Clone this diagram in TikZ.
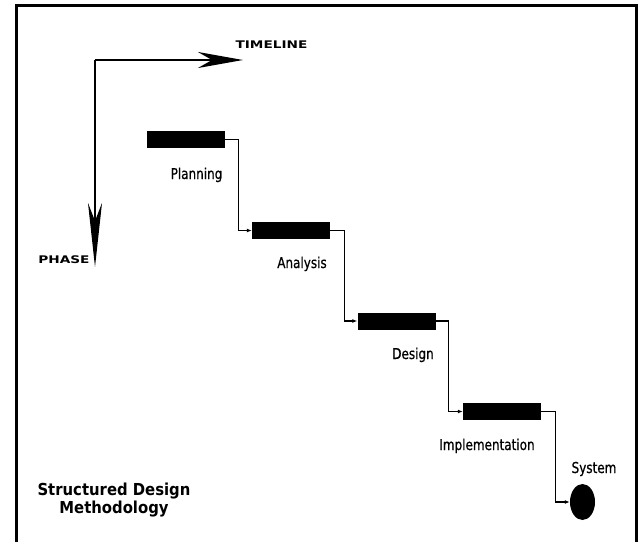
\documentclass[tikz,border=0pt]{standalone}
\usepackage{fontspec}
\usepackage{tikz}
\usetikzlibrary{
  arrows.meta,
  shapes.geometric,
  positioning
}
\newfontfamily\phasefont{DejaVu Sans}[FakeStretch=0.8, FakeBold=0.6]
\newfontfamily\axisfont{DejaVu Sans}[FakeStretch=1.3]
\newfontfamily\titlefont{DejaVu Sans}[FakeStretch=0.9]
\tikzset{
  x=1pt, y=-1pt,
  phasebar/.style={rectangle, fill=black, inner sep=0pt, minimum width=78pt, minimum height=17pt},
  phaselabel/.style={anchor=base, inner sep=0pt, font=\phasefont\fontsize{15}{15}\selectfont},
  axislabel/.style={anchor=base, inner sep=0pt, font=\axisfont\bfseries\fontsize{10.5}{10.5}\selectfont},
  flow/.style={line width=1.4pt, -{Latex[length=5pt, width=4pt]}},
  axis/.style={line width=2.6pt}
}

\begin{document}
\begin{tikzpicture}
    \useasboundingbox (0,0) rectangle (641,542);
    \draw[line width=3pt] (16,542) -- (16,5.5) -- (636,5.5) -- (636,542);
    % axes
    \coordinate (origin) at (95,60);
    \coordinate (tend) at (243,60);
    \coordinate (pend) at (95,267);
    \draw[axis, -{Stealth[length=45pt, width=16pt, inset=14pt]}] (origin) -- (tend);
    \draw[axis, -{Stealth[length=64pt, width=14pt, inset=18pt]}] (origin) -- (pend);
    \node[axislabel] (timeline) at (271.5,48) {TIMELINE};
    \node[axislabel] (phase) at (64,263) {PHASE};
    % phases
    \node[phasebar] (plan) at (186,139.5) {};
    \node[phasebar] (ana) at (291,230.5) {};
    \node[phasebar] (des) at (396.5,321) {};
    \node[phasebar] (impl) at (502,411.5) {};
    \node[ellipse, fill=black, inner sep=0pt, minimum width=25pt, minimum height=36pt] (sys) at (582.5,502) {};
    \node[phaselabel] (planlbl) at (196.5,179) {Planning};
    \node[phaselabel] (analbl) at (302,268) {Analysis};
    \node[phaselabel] (deslbl) at (413,359) {Design};
    \node[phaselabel] (impllbl) at (487,450) {Implementation};
    \node[phaselabel] (syslbl) at (594,473) {System};
    \draw[flow] (plan.east) -- ++(13,0) |- (ana.west);
    \draw[flow] (ana.east) -- ++(14,0) |- (des.west);
    \draw[flow] (des.east) -- ++(13,0) |- (impl.west);
    \draw[flow] (impl.east) -- ++(14,0) |- (sys.west);
    \node[align=center, inner sep=0pt, font=\titlefont\bfseries\fontsize{16.5}{13}\selectfont] (title) at (114,500) {Structured Design\\Methodology};
\end{tikzpicture}
\end{document}
